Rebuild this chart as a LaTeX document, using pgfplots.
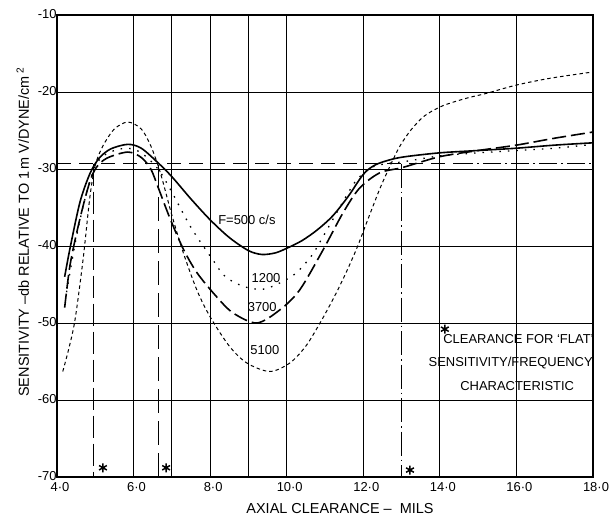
\documentclass[border=0pt]{standalone}
\usepackage{fontspec}
\setmainfont{Liberation Sans}
\usepackage{pgfplots}
\pgfplotsset{compat=1.18}

\begin{document}
\begin{tikzpicture}
\begin{axis}[
    name=ax,
    scale only axis,
    width=536bp, height=462bp,
    xmin=4, xmax=18, ymin=-70, ymax=-10,
    xtick={4,6,...,18},
    xticklabels={4·0,6·0,8·0,10·0,12·0,14·0,16·0,18·0},
    extra x ticks={7,9},
    extra x tick labels={},
    extra x tick style={grid=major},
    ytick={-70,-60,...,-10},
    yticklabels={-70,-60,-50,-40,-30,-20,-10},
    major tick length=0pt,
    grid=major,
    grid style={black, line width=0.9bp},
    axis line style={black, line width=1.3bp},
    tick label style={font=\fontsize{13}{13}\selectfont},
    yticklabel style={xshift=3bp, yshift=1bp},
    xticklabel style={xshift=3bp, yshift=-2bp},
    xlabel={AXIAL CLEARANCE -- \ MILS},
    xlabel style={font=\fontsize{14.5}{14.5}\selectfont, at={(axis description cs:0.528,-0.068)}, anchor=center},
    ylabel={SENSITIVITY --db RELATIVE TO 1\,m V/DYNE/cm\,\textsuperscript{2}},
    ylabel style={font=\fontsize{14.5}{14.5}\selectfont, at={(axis description cs:-0.064,0.53)}, anchor=center},
    clip=true,
]

% reference level and clearance markers
\addplot[black, line width=1.1bp, dash pattern=on 14bp off 8bp] coordinates {(4,-29.3) (14.4,-29.3)};
\addplot[black, line width=1.1bp, dash pattern=on 18bp off 4bp on 2bp off 4bp] coordinates {(14.4,-29.3) (18,-29.3)};
\addplot[black, line width=1.1bp, dash pattern=on 22bp off 6bp] coordinates {(4.95,-29.3) (4.95,-70)};
\addplot[black, line width=1.1bp, dash pattern=on 24bp off 8bp] coordinates {(6.64,-29.5) (6.64,-70)};
\addplot[black, line width=1.1bp, dash pattern=on 24bp off 4bp on 1.5bp off 4bp] coordinates {(13.0,-29.3) (13.0,-70)};
\addplot[black, only marks, mark=asterisk, mark size=4.5bp, line width=1.5bp] coordinates {(5.2,-68.8) (6.85,-68.8) (13.22,-69.1) (14.13,-50.8)};

% F = 500 c/s
\addplot[black, line width=1.6bp, smooth] coordinates {
(4.2,-44) (4.34,-40.3) (4.6,-34.3) (4.86,-30.6) (5.1,-28.6) (5.4,-27.4)
(5.85,-26.8) (6.2,-27.3) (6.64,-29.2) (7.0,-31.0) (7.5,-33.9) (8.0,-36.6)
(8.5,-38.9) (9.0,-40.6) (9.35,-41.1) (9.7,-40.9) (10.0,-40.3) (10.4,-39.3)
(10.8,-37.9) (11.2,-36.1) (11.6,-33.6) (12.0,-30.7) (12.3,-29.5) (12.7,-28.8)
(13.1,-28.4) (14.0,-27.9) (15,-27.6) (16.0,-27.3) (17,-26.9) (18.0,-26.6)};

% 1200 c/s
\addplot[black, line width=1.3bp, smooth, dash pattern=on 1.5bp off 7bp] coordinates {
(4.25,-46) (4.5,-39) (4.75,-33.5) (5.0,-29.6) (5.3,-28.0) (5.8,-27.3)
(6.2,-27.9) (6.64,-30.0) (7.0,-33.0) (7.5,-37.6) (8.07,-41.8) (8.4,-44)
(8.9,-45.3) (9.4,-45.6) (9.9,-44.6) (10.27,-43.4) (10.66,-41.2) (10.9,-39.2)
(11.2,-36.6) (11.5,-34.0) (11.8,-31.6) (12.17,-29.9) (12.6,-29.3) (13.0,-29.1)
(14,-28.3) (15,-27.9) (16,-27.6) (17,-27.3) (18,-26.8)};

% 3700 c/s
\addplot[black, line width=1.6bp, smooth, dash pattern=on 14bp off 5bp] coordinates {
(4.2,-48) (4.34,-42.5) (4.55,-37.5) (4.8,-32.6) (5.0,-30.0) (5.3,-28.6)
(5.85,-27.8) (6.2,-28.5) (6.45,-30.0) (6.65,-32.5) (6.95,-36.4) (7.3,-40.4)
(7.66,-43.5) (8.17,-46.6) (8.6,-48.7) (9.22,-50) (9.82,-48.3) (10.34,-45.7)
(10.95,-40.5) (11.47,-35.7) (11.9,-32.5) (12.43,-30.5) (13.03,-29.8)
(14,-28.4) (15,-27.6) (16,-26.9) (17,-26.0) (18,-25.2)};

% 5100 c/s
\addplot[black, line width=1bp, smooth, dash pattern=on 3.5bp off 3bp] coordinates {
(4.15,-56.3) (4.3,-53.5) (4.47,-49.6) (4.68,-41.8) (4.86,-33.6) (5.0,-29.5)
(5.2,-27) (5.5,-24.8) (5.85,-23.9) (6.2,-24.8) (6.45,-27) (6.7,-30.5)
(7.0,-36.0) (7.3,-40.9) (7.66,-45.8) (8.0,-49.2) (8.5,-53) (8.96,-55.2)
(9.56,-56.3) (10.08,-55.2) (10.5,-53) (10.87,-50) (11.2,-47.0) (11.5,-44)
(11.83,-40.3) (12.1,-36.8) (12.43,-32.6) (12.7,-29.6) (12.96,-27) (13.25,-24.9)
(13.6,-23.1) (14.07,-21.8) (14.7,-20.8) (15.2,-20.2) (16.0,-19.1) (16.9,-18.2) (18.0,-17.4)};

\node[font=\fontsize{13}{13}\selectfont] at (axis cs:8.96,-36.6) {F=500 c/s};
\node[font=\fontsize{13}{13}\selectfont] at (axis cs:9.46,-44.2) {1200};
\node[font=\fontsize{13}{13}\selectfont] at (axis cs:9.36,-47.9) {3700};
\node[font=\fontsize{13}{13}\selectfont] at (axis cs:9.43,-53.5) {5100};
\node[font=\fontsize{13}{23.5}\selectfont, align=center] at (axis cs:15.85,-55.1)
  {\hspace*{1.2em}CLEARANCE FOR `FLAT'\\SENSITIVITY/FREQUENCY\\\hspace*{1em}CHARACTERISTIC};
\end{axis}
\pgfresetboundingbox
\path ([shift={(-57bp,-39bp)}]ax.south west) rectangle ([shift={(22bp,15bp)}]ax.north east);
\end{tikzpicture}
\end{document}
